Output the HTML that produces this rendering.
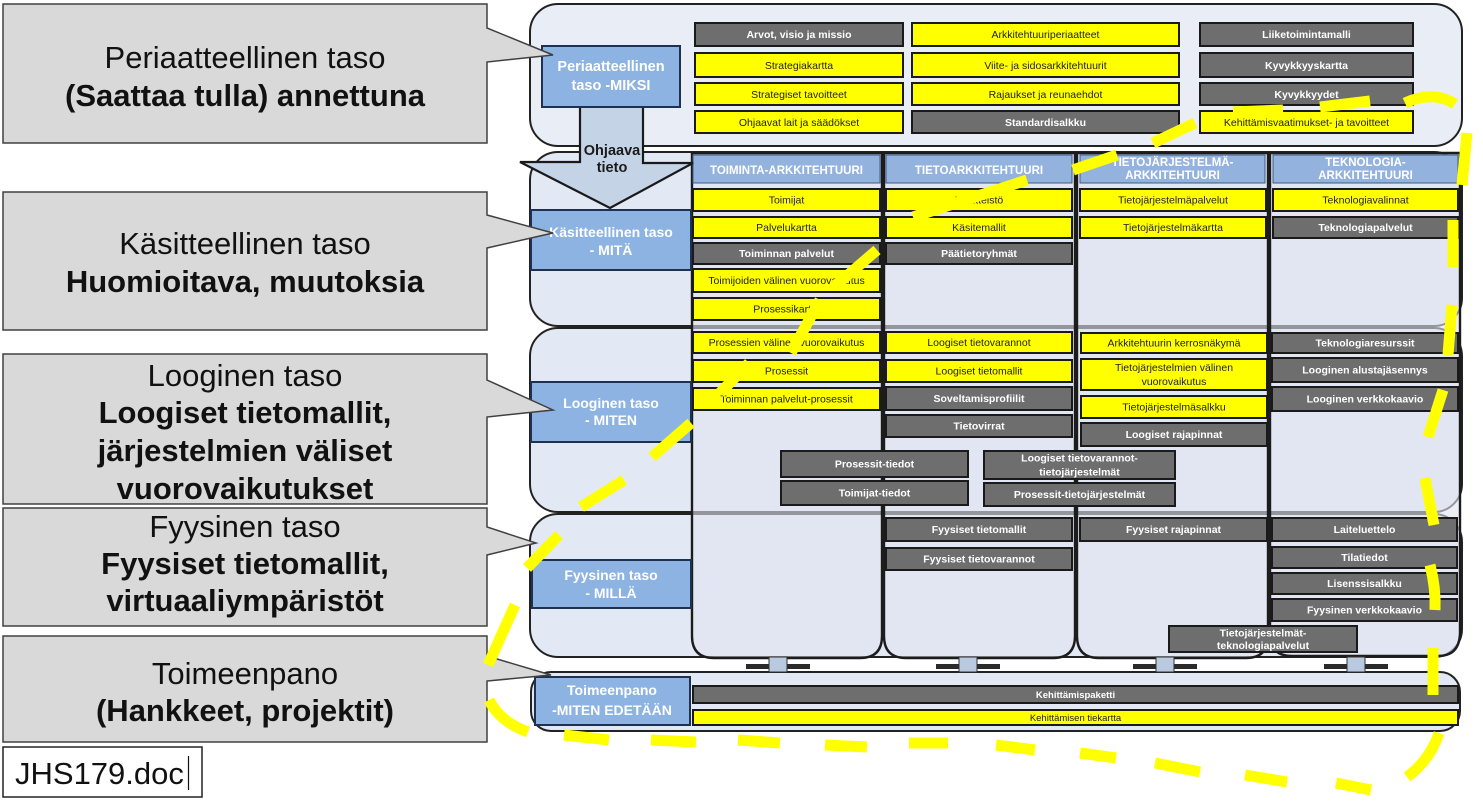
<!DOCTYPE html>
<html><head><meta charset="utf-8">
<style>
html,body{margin:0;padding:0;background:#fff;}
svg{display:block;}
text{font-family:"Liberation Sans",Arial,sans-serif;}
.g rect{fill:#6e6e6e;stroke:#1a1a1a;stroke-width:2;}
.g text{fill:#fff;font-weight:bold;font-size:10.5px;text-anchor:middle;}
.y rect{fill:#ffff00;stroke:#1a1a1a;stroke-width:2;}
.y text{fill:#222;font-size:10.5px;text-anchor:middle;}
.lab rect{fill:#8db3e2;stroke:#1f3050;stroke-width:2;}
.lab text{fill:#fff;font-weight:bold;font-size:14px;text-anchor:middle;}
.hd rect{fill:#93b2dd;stroke:#3d5a88;stroke-width:1;}
.hd text{fill:#fff;font-weight:bold;font-size:11.5px;text-anchor:middle;}
.co path{fill:#d9d9d9;stroke:#404040;stroke-width:1.5;}
.co text{font-size:31px;text-anchor:middle;fill:#111;}
.co .b{font-weight:bold;}
.dash path{fill:none;stroke:#ffff00;stroke-width:11;stroke-linecap:butt;}
</style></head>
<body>
<svg width="1483" height="802" viewBox="0 0 1483 802" xmlns="http://www.w3.org/2000/svg">
<rect x="0" y="0" width="1483" height="802" fill="#fff"/>

<!-- row panels -->
<g stroke="#222" stroke-width="2">
<rect x="530" y="4" width="932" height="142" rx="28" fill="#e8edf6"/>
<rect x="530" y="152" width="932" height="174" rx="28" fill="#e3e9f4"/>
<rect x="530" y="328" width="932" height="184" rx="28" fill="#e3e9f4"/>
<rect x="530" y="514" width="932" height="143" rx="28" fill="#e3e9f4"/>
<rect x="531" y="672" width="929" height="59" rx="20" fill="#e3e9f4"/>
</g>

<!-- columns -->
<g fill="#dfe5f0" fill-opacity="0.6" stroke="#1c1c1c" stroke-width="2.4">
<path d="M692,153 H882 V636 Q882,658 860,658 H714 Q692,658 692,636 Z"/>
<path d="M884,153 H1075 V636 Q1075,658 1053,658 H906 Q884,658 884,636 Z"/>
<path d="M1077,153 H1268 V636 Q1268,658 1246,658 H1099 Q1077,658 1077,636 Z"/>
<path d="M1270,153 H1460 V632 Q1460,656 1438,656 H1292 Q1270,656 1270,634 Z"/>
</g>

<!-- stubs under columns -->
<g>
<rect x="746" y="664" width="64" height="5" fill="#2a2a2a"/>
<rect x="769" y="657" width="18" height="15" fill="#b9c9e0" stroke="#333" stroke-width="1"/>
<rect x="936" y="664" width="64" height="5" fill="#2a2a2a"/>
<rect x="959" y="657" width="18" height="15" fill="#b9c9e0" stroke="#333" stroke-width="1"/>
<rect x="1133" y="664" width="64" height="5" fill="#2a2a2a"/>
<rect x="1156" y="657" width="18" height="15" fill="#b9c9e0" stroke="#333" stroke-width="1"/>
<rect x="1324" y="664" width="64" height="5" fill="#2a2a2a"/>
<rect x="1347" y="657" width="18" height="15" fill="#b9c9e0" stroke="#333" stroke-width="1"/>
</g>

<!-- headers -->
<g class="hd">
<rect x="693" y="155" width="187" height="28"/><text x="786.5" y="174">TOIMINTA-ARKKITEHTUURI</text>
<rect x="886" y="155" width="186" height="28"/><text x="979" y="174">TIETOARKKITEHTUURI</text>
<rect x="1080" y="155" width="185" height="28"/><text x="1172.5" y="166">TIETOJÄRJESTELMÄ-</text><text x="1172.5" y="179">ARKKITEHTUURI</text>
<rect x="1273" y="155" width="185" height="28"/><text x="1365.5" y="166">TEKNOLOGIA-</text><text x="1365.5" y="179">ARKKITEHTUURI</text>
</g>

<!-- top panel items -->
<g class="g"><rect x="695" y="23" width="208" height="23"/><text x="799" y="38">Arvot, visio ja missio</text></g>
<g class="y"><rect x="695" y="53" width="208" height="24"/><text x="799" y="69">Strategiakartta</text></g>
<g class="y"><rect x="695" y="83" width="208" height="22"/><text x="799" y="98">Strategiset tavoitteet</text></g>
<g class="y"><rect x="695" y="111" width="208" height="22"/><text x="799" y="126">Ohjaavat lait ja säädökset</text></g>

<g class="y"><rect x="912" y="23" width="267" height="23"/><text x="1045.5" y="38">Arkkitehtuuriperiaatteet</text></g>
<g class="y"><rect x="912" y="53" width="267" height="24"/><text x="1045.5" y="69">Viite- ja sidosarkkitehtuurit</text></g>
<g class="y"><rect x="912" y="83" width="267" height="22"/><text x="1045.5" y="98">Rajaukset ja reunaehdot</text></g>
<g class="g"><rect x="912" y="111" width="267" height="22"/><text x="1045.5" y="126">Standardisalkku</text></g>

<g class="g"><rect x="1200" y="23" width="213" height="23"/><text x="1306.5" y="38">Liiketoimintamalli</text></g>
<g class="g"><rect x="1200" y="53" width="213" height="24"/><text x="1306.5" y="69">Kyvykkyyskartta</text></g>
<g class="g"><rect x="1200" y="83" width="213" height="22"/><text x="1306.5" y="98">Kyvykkyydet</text></g>
<g class="y"><rect x="1200" y="111" width="213" height="22"/><text x="1306.5" y="126">Kehittämisvaatimukset- ja tavoitteet</text></g>

<!-- Käsitteellinen row items -->
<g class="y"><rect x="693" y="189" width="187" height="22"/><text x="786.5" y="203.5">Toimijat</text></g>
<g class="y"><rect x="693" y="217" width="187" height="21"/><text x="786.5" y="231">Palvelukartta</text></g>
<g class="g"><rect x="693" y="243" width="187" height="21"/><text x="786.5" y="257">Toiminnan palvelut</text></g>
<g class="y"><rect x="693" y="269" width="187" height="23"/><text x="786.5" y="284">Toimijoiden välinen vuorovaikutus</text></g>
<g class="y"><rect x="693" y="298" width="187" height="22"/><text x="786.5" y="312.5">Prosessikartta</text></g>

<g class="y"><rect x="886" y="189" width="186" height="22"/><text x="979" y="203.5">Käsitteistö</text></g>
<g class="y"><rect x="886" y="217" width="186" height="21"/><text x="979" y="231">Käsitemallit</text></g>
<g class="g"><rect x="886" y="243" width="186" height="21"/><text x="979" y="257">Päätietoryhmät</text></g>

<g class="y"><rect x="1080" y="189" width="186" height="22"/><text x="1173" y="203.5">Tietojärjestelmäpalvelut</text></g>
<g class="y"><rect x="1080" y="217" width="186" height="21"/><text x="1173" y="231">Tietojärjestelmäkartta</text></g>

<g class="y"><rect x="1273" y="189" width="185" height="22"/><text x="1365.5" y="203.5">Teknologiavalinnat</text></g>
<g class="g"><rect x="1273" y="217" width="185" height="21"/><text x="1365.5" y="231">Teknologiapalvelut</text></g>

<!-- Looginen row items -->
<g class="y"><rect x="693" y="332" width="187" height="21"/><text x="786.5" y="346">Prosessien välinen vuorovaikutus</text></g>
<g class="y"><rect x="693" y="360" width="187" height="22"/><text x="786.5" y="374.5">Prosessit</text></g>
<g class="y"><rect x="693" y="388" width="187" height="22"/><text x="786.5" y="402.5">Toiminnan palvelut-prosessit</text></g>

<g class="y"><rect x="886" y="332" width="186" height="21"/><text x="979" y="346">Loogiset tietovarannot</text></g>
<g class="y"><rect x="886" y="360" width="186" height="22"/><text x="979" y="374.5">Loogiset tietomallit</text></g>
<g class="g"><rect x="886" y="387" width="186" height="23"/><text x="979" y="402">Soveltamisprofiilit</text></g>
<g class="g"><rect x="886" y="415" width="186" height="22"/><text x="979" y="429.5">Tietovirrat</text></g>

<g class="y"><rect x="1081" y="333" width="186" height="20"/><text x="1174" y="346.5">Arkkitehtuurin kerrosnäkymä</text></g>
<g class="y"><rect x="1081" y="359" width="186" height="31"/><text x="1174" y="371">Tietojärjestelmien välinen</text><text x="1174" y="385">vuorovaikutus</text></g>
<g class="y"><rect x="1081" y="396" width="186" height="22"/><text x="1174" y="410.5">Tietojärjestelmäsalkku</text></g>
<g class="g"><rect x="1081" y="423" width="186" height="23"/><text x="1174" y="438">Loogiset rajapinnat</text></g>

<g class="g"><rect x="1272" y="333" width="186" height="20"/><text x="1365" y="346.5">Teknologiaresurssit</text></g>
<g class="g"><rect x="1272" y="358" width="186" height="24"/><text x="1365" y="373.5">Looginen alustajäsennys</text></g>
<g class="g"><rect x="1272" y="387" width="186" height="24"/><text x="1365" y="402.5">Looginen verkkokaavio</text></g>

<g class="g"><rect x="781" y="451" width="187" height="26"/><text x="874.5" y="467.5">Prosessit-tiedot</text></g>
<g class="g"><rect x="781" y="481" width="187" height="24"/><text x="874.5" y="496.5">Toimijat-tiedot</text></g>
<g class="g"><rect x="984" y="451" width="191" height="28"/><text x="1079.5" y="461.5">Loogiset tietovarannot-</text><text x="1079.5" y="475.5">tietojärjestelmät</text></g>
<g class="g"><rect x="984" y="483" width="191" height="23"/><text x="1079.5" y="498">Prosessit-tietojärjestelmät</text></g>

<!-- Fyysinen row items -->
<g class="g"><rect x="886" y="518" width="186" height="23"/><text x="979" y="533">Fyysiset tietomallit</text></g>
<g class="g"><rect x="886" y="548" width="186" height="22"/><text x="979" y="562.5">Fyysiset tietovarannot</text></g>
<g class="g"><rect x="1080" y="518" width="187" height="23"/><text x="1173.5" y="533">Fyysiset rajapinnat</text></g>
<g class="g"><rect x="1272" y="518" width="185" height="23"/><text x="1364.5" y="533">Laiteluettelo</text></g>
<g class="g"><rect x="1272" y="547" width="185" height="21"/><text x="1364.5" y="561">Tilatiedot</text></g>
<g class="g"><rect x="1272" y="573" width="185" height="21"/><text x="1364.5" y="587">Lisenssisalkku</text></g>
<g class="g"><rect x="1272" y="599" width="185" height="22"/><text x="1364.5" y="613.5">Fyysinen verkkokaavio</text></g>
<g class="g"><rect x="1169" y="626" width="188" height="26"/><text x="1263" y="636.5">Tietojärjestelmät-</text><text x="1263" y="649">teknologiapalvelut</text></g>

<!-- Toimeenpano -->
<g class="g"><rect x="693" y="686" width="765" height="17"/><text x="1075.5" y="698" style="font-size:9.5px">Kehittämispaketti</text></g>
<g class="y"><rect x="693" y="710" width="765" height="15"/><text x="1075.5" y="721" style="font-size:9.5px">Kehittämisen tiekartta</text></g>

<!-- arrow Ohjaava tieto -->
<path d="M580,105 H643 V163 H693 L610,208 L520,162 H580 Z" fill="#c5d3e6" stroke="#1a1a1a" stroke-width="2.2" stroke-linejoin="miter"/>
<text x="612" y="155" font-size="14.5" font-weight="bold" text-anchor="middle" fill="#1a1a1a">Ohjaava</text>
<text x="612" y="172" font-size="14.5" font-weight="bold" text-anchor="middle" fill="#1a1a1a">tieto</text>

<!-- layer labels -->
<g class="lab">
<rect x="542" y="46" width="138" height="61"/><text x="611" y="71" style="font-size:14.5px">Periaatteellinen</text><text x="611" y="90" style="font-size:14.5px">taso -MIKSI</text>
<rect x="531" y="210" width="160" height="60"/><text x="611" y="237">Käsitteellinen taso</text><text x="611" y="255">- MITÄ</text>
<rect x="531" y="382" width="160" height="60"/><text x="611" y="408">Looginen taso</text><text x="611" y="425">- MITEN</text>
<rect x="532" y="560" width="159" height="48"/><text x="611" y="580">Fyysinen taso</text><text x="611" y="598">- MILLÄ</text>
<rect x="535" y="677" width="155" height="48"/><text x="612" y="695">Toimeenpano</text><text x="612" y="715">-MITEN EDETÄÄN</text>
</g>

<!-- callouts -->
<g class="co">
<path d="M3,4 H487 V28 L553,55 L487,62 V143 H3 Z"/>
<text x="245" y="68">Periaatteellinen taso</text>
<text x="245" y="106" class="b">(Saattaa tulla) annettuna</text>

<path d="M3,192 H487 V215 L553,233 L487,248 V330 H3 Z"/>
<text x="245" y="254">Käsitteellinen taso</text>
<text x="245" y="292" class="b">Huomioitava, muutoksia</text>

<path d="M3,354 H487 V380 L553,410 L487,417 V504 H3 Z"/>
<text x="245" y="386">Looginen taso</text>
<text x="245" y="423" class="b">Loogiset tietomallit,</text>
<text x="245" y="461" class="b">järjestelmien väliset</text>
<text x="245" y="499" class="b">vuorovaikutukset</text>

<path d="M3,508 H487 V527 L536,543 L487,555 V626 H3 Z"/>
<text x="245" y="537">Fyysinen taso</text>
<text x="245" y="574" class="b">Fyysiset tietomallit,</text>
<text x="245" y="611" class="b">virtuaaliympäristöt</text>

<path d="M3,636 H487 V656 L551,675 L487,681 V742 H3 Z"/>
<text x="245" y="684">Toimeenpano</text>
<text x="245" y="721" class="b">(Hankkeet, projektit)</text>
</g>

<!-- JHS box -->
<rect x="3" y="747" width="199" height="50" fill="#fff" stroke="#222" stroke-width="1.5"/>
<text x="15" y="784" font-size="31" fill="#111">JHS179.doc</text>
<line x1="188.5" y1="756" x2="188.5" y2="790" stroke="#111" stroke-width="1.2"/>

<!-- yellow dashed loop -->
<g class="dash">
<path d="M1405,103 Q1433,90 1455,104"/>
<path d="M1467,133 L1462,185"/>
<path d="M1453,220 L1453,267"/>
<path d="M1452,305 L1448,355"/>
<path d="M1443,390 L1428,437"/>
<path d="M1425,478 L1434,525"/>
<path d="M1430,565 Q1436,588 1435,610"/>
<path d="M1433,648 L1433,695"/>
<path d="M1439,733 Q1430,760 1407,777"/>
<path d="M1336,783 L1371,790"/>
<path d="M1245,775 L1287,782"/>
<path d="M1155,763 L1200,772"/>
<path d="M1080,753 L1116,758"/>
<path d="M996,745 L1035,750"/>
<path d="M909,743 L948,743"/>
<path d="M825,745 L867,747"/>
<path d="M738,740 L780,743"/>
<path d="M651,740 L696,742"/>
<path d="M564,735 L609,740"/>
<path d="M489,700 Q500,722 528,732"/>
<path d="M515,605 L488,665"/>
<path d="M559,535 L527,568"/>
<path d="M624,480 L581,507"/>
<path d="M691,423 L652,457"/>
<path d="M749,363 L720,393"/>
<path d="M820,300 L791,353"/>
<path d="M877,250 L834,287"/>
<path d="M913,217 L1027,180"/>
<path d="M1073,170 L1117,155"/>
<path d="M1153,143 L1195,123"/>
<path d="M1233,112 L1283,110"/>
<path d="M1320,107 L1370,101"/>
</g>
</svg>
</body></html>
